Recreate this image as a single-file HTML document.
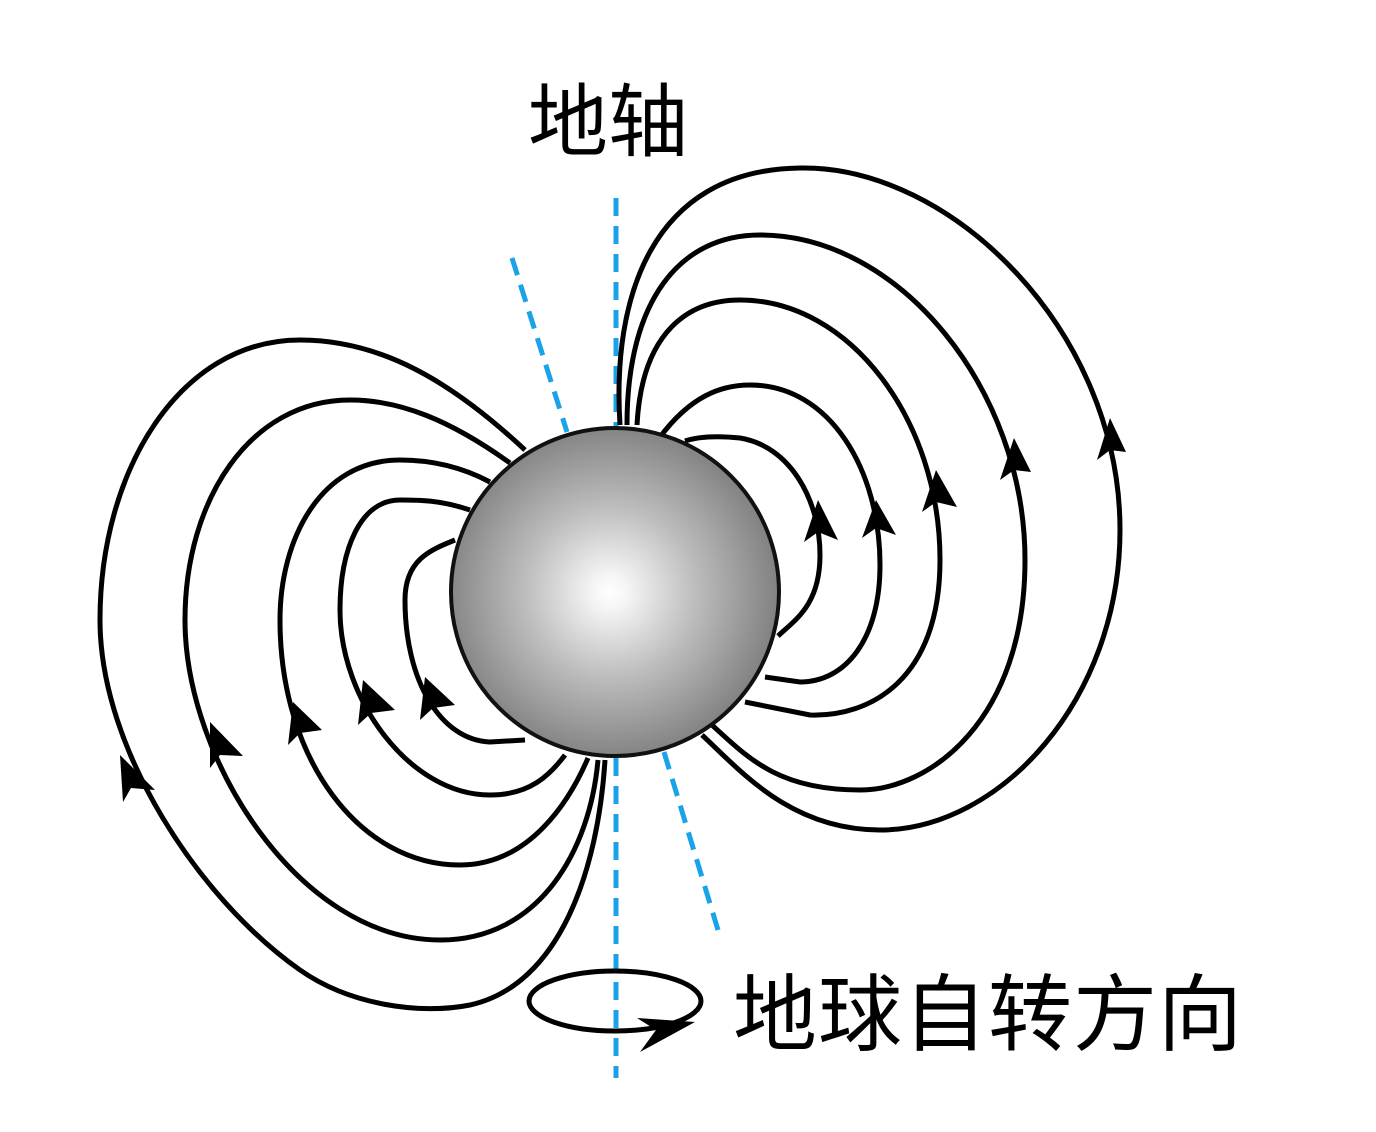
<!DOCTYPE html>
<html><head><meta charset="utf-8"><style>
html,body{margin:0;padding:0;background:#fff;}
svg{display:block}
text{font-family:"Liberation Sans","Noto Sans CJK SC",sans-serif;}
</style></head><body>
<svg width="1376" height="1132" viewBox="0 0 1376 1132" xmlns="http://www.w3.org/2000/svg">
<defs>
<radialGradient id="g" cx="610" cy="592" r="170" gradientUnits="userSpaceOnUse">
<stop offset="0" stop-color="#ffffff"/>
<stop offset="0.1" stop-color="#f5f5f5"/>
<stop offset="0.5" stop-color="#bdbdbd"/>
<stop offset="1" stop-color="#808080"/>
</radialGradient>
</defs>
<g stroke="#1aa3e8" stroke-width="5" stroke-dasharray="18,10" fill="none">
<line x1="616" y1="198" x2="616" y2="1078"/>
<line x1="512" y1="258" x2="567" y2="432"/>
<line x1="664" y1="752" x2="718" y2="930"/>
</g>
<g stroke="#000" stroke-width="5" fill="none">
<path d="M620,425 C612,300 650,170 800,168 C950,165 1120,330 1120,530 C1120,700 1000,830 880,830 C790,830 740,770 702,735"/>
<path d="M627,425 C627,300 680,235 760,235 C900,235 1025,390 1025,560 C1025,720 930,790 860,790 C780,790 750,760 712,725"/>
<path d="M637,425 C642,330 690,300 740,300 C850,300 940,420 940,560 C940,680 870,717 810,715 L745,702"/>
<path d="M660,437 C690,397 720,385 750,385 C830,385 880,470 880,565 C880,640 845,682 800,682 L765,677"/>
<path d="M685,441 C700,436 720,436 740,438 C790,446 820,500 820,555 C820,605 795,620 778,636"/>
<path d="M525,450 C450,380 380,340 300,340 C180,340 100,470 100,620 C100,750 200,900 300,970 C350,1005 420,1015 470,1005 C560,985 598,870 605,760"/>
<path d="M510,463 C450,420 400,400 350,400 C250,400 185,500 185,620 C185,760 300,940 440,940 C540,940 590,850 598,760"/>
<path d="M490,482 C460,466 430,460 400,460 C320,460 280,540 280,620 C280,760 360,865 460,865 C530,865 570,800 588,758"/>
<path d="M470,510 C440,500 420,500 400,500 C360,500 340,550 340,610 C340,700 410,795 490,795 C530,795 550,775 565,755"/>
<path d="M455,540 C430,550 405,560 405,600 C405,680 440,740 490,742 L525,740"/>
<ellipse cx="615" cy="1001" rx="86" ry="30"/>
</g>
<circle cx="615" cy="592" r="164" fill="url(#g)" stroke="#111" stroke-width="4"/>
<g fill="#000">
<polygon points="1110,418 1097,460 1110,450 1126,452"/>
<polygon points="1014,438 1000,480 1014,470 1031,472"/>
<polygon points="936,470 922,512 936,502 957,507"/>
<polygon points="876,500 862,538 876,528 896,535"/>
<polygon points="818,500 804,542 818,532 838,540"/>
<polygon points="120,755 123,802 131,788 155,790"/>
<polygon points="210,722 210,768 220,755 243,756"/>
<polygon points="293,702 288,745 300,733 322,730"/>
<polygon points="363,680 358,725 371,713 395,710"/>
<polygon points="425,677 420,720 433,708 455,705"/>
<polygon points="695,1022 640,1052 656,1030 637,1018"/>
</g>
<text x="528" y="150" font-size="80">地轴</text>
<text x="733" y="1044" font-size="84" letter-spacing="1">地球自转方向</text>
</svg>
</body></html>
